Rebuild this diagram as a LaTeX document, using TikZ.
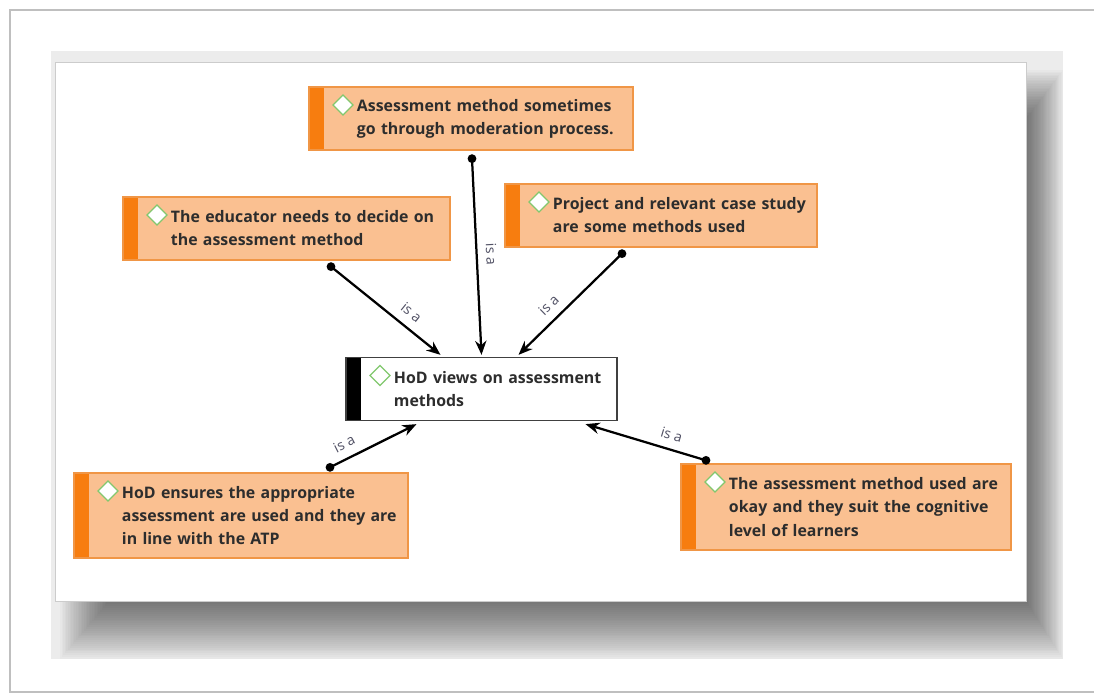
\documentclass[tikz,border=0pt]{standalone}
\usepackage{fontspec}
\setmainfont{Open Sans}
\usetikzlibrary{positioning, arrows.meta, calc}

\definecolor{conceptfill}{RGB}{250,192,145}
\definecolor{conceptedge}{RGB}{240,150,70}
\definecolor{conceptbar}{RGB}{247,125,15}
\definecolor{gemgreen}{RGB}{130,200,110}
\definecolor{inktext}{RGB}{45,45,45}
\definecolor{isatext}{RGB}{80,80,100}
\definecolor{backdrop}{RGB}{236,236,236}

\begin{document}
\begin{tikzpicture}[
    x=0.025cm, y=-0.025cm,
    >={Stealth[length=10pt, width=8pt]},
    mapbox/.style={
      line width=0.9pt,
      minimum height=1.575cm,
      inner xsep=0.2cm,
      inner ysep=0.15cm,
      align=left,
      font=\fontsize{11.3}{16.4}\selectfont\bfseries,
      text=inktext,
      execute at begin node={\leftskip=1cm\hyphenpenalty=10000},
      path picture={
        \fill[#1] (path picture bounding box.south west)
          rectangle ($(path picture bounding box.north west)+(15,0)$);
        \draw[gemgreen, fill=white, line width=0.9pt]
          ($(path picture bounding box.north west)+(34,8)$)
          -- ++(10,10) -- ++(-10,10) -- ++(-10,-10) -- cycle;
      },
    },
    concept/.style={mapbox=conceptbar, fill=conceptfill, draw=conceptedge},
    focus/.style={mapbox=black, fill=white, draw=black!75},
    link/.style={->, line width=1.6pt, black},
    isa/.style={
      sloped, above,
      font=\fontsize{10}{12}\selectfont,
      text=isatext,
      inner sep=6pt,
    },
  ]
  \useasboundingbox (0,0) rectangle (1094,695);

  % --- Page frame and shadowed panel ---
  \draw[black!25, line width=1pt] (10,10) rectangle (1110,692);
  \fill[backdrop] (51,51) rectangle (1063,659);
  \foreach \i in {0,...,29}
    \fill[black, opacity=0.02] (60+1.6*\i, 70+1.6*\i) rectangle (1063-1.2*\i, 659-1.88*\i);
  \filldraw[fill=white, draw=black!20] (55,62) rectangle (1026,601);

  % --- Central concept ---
  \node[focus, text width=6.375cm] (hod) at (481.5,389) {%
    HoD views on assessment\\
    methods%
  };

  % --- Surrounding concepts ---
  \node[concept, text width=7.7cm] (moder) at (471,118.5) {%
    Assessment method sometimes\\
    go through moderation process.%
  };
  \node[concept, text width=7.775cm] (decide) at (286.5,228.5) {%
    The educator needs to decide on\\
    the assessment method%
  };
  \node[concept, text width=7.4cm] (project) at (661,215.5) {%
    Project and relevant case study\\
    are some methods used%
  };
  \node[concept, text width=7.95cm, minimum height=2.125cm] (ensure) at (241,515.5) {%
    HoD ensures the appropriate\\
    assessment are used and they are\\
    in line with the ATP%
  };
  \node[concept, text width=7.85cm, minimum height=2.15cm] (suit) at (846,507) {%
    The assessment method used are\\
    okay and they suit the cognitive\\
    level of learners%
  };

  % --- Link start points ---
  \coordinate (moder-dot)   at ($(moder.south)+(1,8)$);
  \coordinate (decide-dot)  at ($(decide.south)+(44.5,6)$);
  \coordinate (project-dot) at ($(project.south)+(-39,6)$);
  \coordinate (ensure-dot)  at ($(ensure.north)+(89,-5)$);
  \coordinate (suit-dot)    at ($(suit.north)+(-140,-3)$);
  \foreach \d in {moder-dot, decide-dot, project-dot, ensure-dot, suit-dot}
    \fill (\d) circle (0.11cm);

  % --- "is a" links into the central concept ---
  \draw[link] (moder-dot) -- ($(hod.north)+(0,-2)$)
    node[isa, pos=0.49] {is a};
  \draw[link] (decide-dot) -- ($(hod.north)+(-41,-2)$)
    node[isa, pos=0.65] {is a};
  \draw[link] (project-dot) -- ($(hod.north)+(37,-2)$)
    node[isa, pos=0.61] {is a};
  \draw[link] (ensure-dot) -- ($(hod.south)+(-65,3)$)
    node[isa, pos=0.24] {is a};
  \draw[link] (suit-dot) -- ($(hod.south)+(104,3)$)
    node[isa, pos=0.32] {is a};

\end{tikzpicture}
\end{document}
